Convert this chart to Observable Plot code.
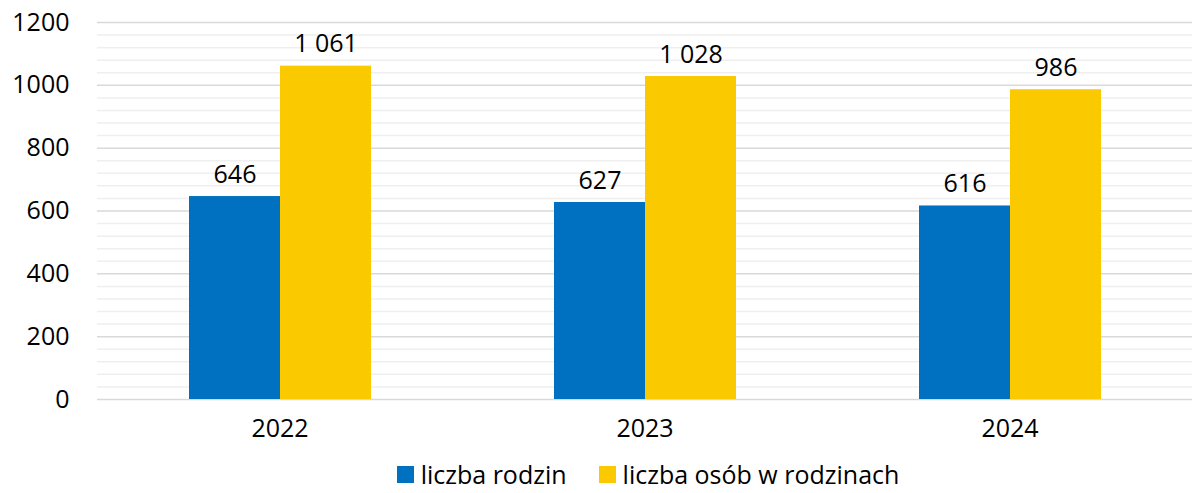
<!DOCTYPE html>
<html>
<head>
<meta charset="utf-8">
<script src="https://cdn.jsdelivr.net/npm/d3@7"></script>
<script src="https://cdn.jsdelivr.net/npm/@observablehq/plot@0.6"></script>
<style>
  html, body { margin: 0; padding: 0; background: #fff; }
  body { width: 1192px; height: 493px; overflow: hidden; font-family: "Open Sans", sans-serif; }
  #legend { display: flex; justify-content: center; align-items: center; gap: 32px; height: 38px; font-size: 25px; color: #000; margin-left: 104px; }
  #legend .item { display: flex; align-items: center; gap: 7px; }
  #legend .sw { width: 17px; height: 17px; display: inline-block; }
</style>
</head>
<body>
<div id="chart"></div>
<div id="legend"></div>
<script>
const years = ["2022", "2023", "2024"];
const seriesNames = ["liczba rodzin", "liczba osób w rodzinach"];
const seriesColors = ["#0070C0", "#FAC900"];
const rodziny = [646, 627, 616];
const osoby = [1061, 1028, 986];
const majorTicks = [0, 200, 400, 600, 800, 1000, 1200];
const minorTicks = d3.range(0, 1201, 40).filter(v => v % 200 !== 0);

const data = [];
years.forEach((y, i) => {
  data.push({year: y, series: seriesNames[0], value: rodziny[i]});
  data.push({year: y, series: seriesNames[1], value: osoby[i]});
});

const fmt = v => {
  const s = String(v);
  return s.length > 3 ? s.slice(0, s.length - 3) + " " + s.slice(-3) : s;
};

const chart = Plot.plot({
  width: 1192,
  height: 455,
  marginLeft: 96,
  marginRight: 0,
  marginTop: 22,
  marginBottom: 56,
  style: {fontFamily: "Open Sans, sans-serif", fontSize: "25px", color: "#000", background: "#fff"},
  fx: {domain: years, padding: 0, label: null, tickSize: 0, tickPadding: 20},
  x: {domain: seriesNames, paddingInner: 0, paddingOuter: 1, axis: null},
  y: {domain: [0, 1200], ticks: majorTicks, tickFormat: d => String(d), label: null, tickSize: 0, tickPadding: 28},
  color: {domain: seriesNames, range: seriesColors},
  marks: [
    Plot.ruleY(minorTicks, {stroke: "#efefef", strokeWidth: 1.5}),
    Plot.ruleY(majorTicks, {stroke: "#d9d9d9", strokeWidth: 1.5}),
    Plot.barY(data, {fx: "year", x: "series", y: "value", fill: "series", inset: 0}),
    Plot.text(data, {fx: "year", x: "series", y: "value", text: d => fmt(d.value), lineAnchor: "bottom", dy: -14, fontSize: 25, fill: "#000"})
  ]
});
document.getElementById("chart").appendChild(chart);

const legend = document.getElementById("legend");
seriesNames.forEach((n, i) => {
  const it = document.createElement("div");
  it.className = "item";
  const sw = document.createElement("span");
  sw.className = "sw";
  sw.style.background = seriesColors[i];
  const t = document.createElement("span");
  t.textContent = n;
  it.appendChild(sw);
  it.appendChild(t);
  legend.appendChild(it);
});
</script>
</body>
</html>
